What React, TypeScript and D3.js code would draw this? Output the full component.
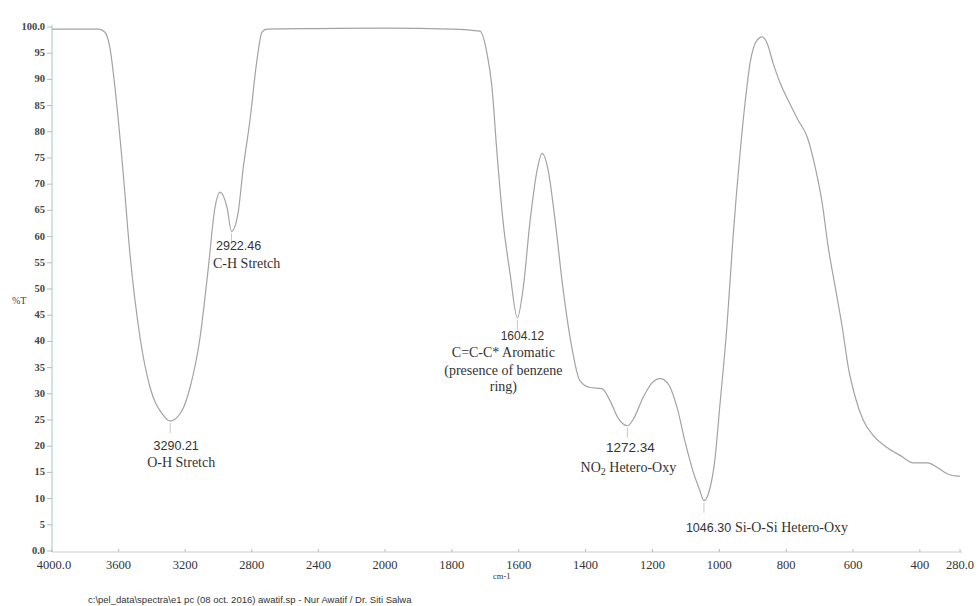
import React from 'react';
import * as d3 from 'd3';

// FTIR spectrum (cm-1, %T)
const wavenumbers = [
  4000, 3720, 3682, 3652, 3622, 3574, 3532, 3471, 3411, 3339, 3290, 3219, 3171, 3111, 3063,
  3021, 2991, 2949, 2922, 2883, 2853, 2811, 2769, 2739, 2709, 2400, 2000, 1800, 1716, 1695,
  1680, 1665, 1647, 1626, 1604, 1587, 1566, 1545, 1530, 1512, 1491, 1468, 1441, 1417, 1387,
  1351, 1327, 1303, 1275, 1255, 1228, 1201, 1177, 1153, 1126, 1103, 1079, 1058, 1046, 1030,
  1014, 998, 977, 959, 938, 923, 908, 887, 872, 857, 839, 818, 794, 764, 737, 713, 692, 674,
  653, 632, 614, 593, 569, 539, 497, 458, 419, 377, 347, 317, 288, 280
];
const transmittance = [
  99.6, 99.6, 99.0, 96.0, 88.5, 72.7, 56.8, 40.7, 31.2, 26.2, 24.8, 26.8, 31.2, 40.7, 53.5,
  65.6, 68.5, 65.6, 61.0, 64.4, 72.7, 82.2, 93.7, 99.0, 99.6, 99.7, 99.8, 99.6, 99.2, 95.0,
  88.5, 75.9, 63.0, 53.0, 44.5, 50.0, 63.0, 72.7, 75.9, 72.7, 63.0, 50.3, 38.8, 32.5, 31.2,
  31.0, 28.7, 25.4, 23.9, 25.4, 29.3, 32.1, 32.9, 31.9, 27.3, 21.0, 15.3, 11.5, 9.6, 11.5,
  17.0, 28.0, 43.0, 59.8, 75.9, 85.5, 93.1, 97.5, 98.1, 96.9, 93.1, 89.3, 86.0, 82.2, 79.0,
  73.2, 66.3, 57.9, 50.3, 42.6, 35.0, 29.3, 24.9, 22.0, 19.7, 18.2, 16.8, 16.8, 15.9, 14.7,
  14.3, 14.3
];

const xTicks = [4000, 3600, 3200, 2800, 2400, 2000, 1800, 1600, 1400, 1200, 1000, 800, 600, 400, 280];
const xTickLabels = ['4000.0', '3600', '3200', '2800', '2400', '2000', '1800', '1600', '1400', '1200', '1000', '800', '600', '400', '280.0'];
const yTicks = [0, 5, 10, 15, 20, 25, 30, 35, 40, 45, 50, 55, 60, 65, 70, 75, 80, 85, 90, 95, 100];
const yTickLabels = ['0.0', '5', '10', '15', '20', '25', '30', '35', '40', '45', '50', '55', '60', '65', '70', '75', '80', '85', '90', '95', '100.0'];

const peakPositions = [3290, 2922, 1604, 1275, 1046];
const peakNumbers = ['3290.21', '2922.46', '1604.12', '1272.34', '1046.30'];

const footer = 'c:\\pel_data\\spectra\\e1 pc (08 oct. 2016) awatif.sp - Nur Awatif / Dr. Siti Salwa';

const WIDTH = 980;
const HEIGHT = 606;
const SERIF = '"Liberation Serif", "Times New Roman", serif';
const SANS = '"Liberation Sans", Arial, sans-serif';

export default function App() {
  // the scale doubles below 2000 cm-1, like the instrument plot
  const x = d3.scaleLinear().domain([4000, 2000, 280]).range([52, 385, 960]);
  const y = d3.scaleLinear().domain([0, 100]).range([551, 27]);

  const points: [number, number][] = wavenumbers.map((w, i) => [w, transmittance[i]]);
  const line = d3
    .line<[number, number]>()
    .x(d => x(d[0]))
    .y(d => y(d[1]))
    .curve(d3.curveMonotoneX);

  const tOf = (w: number) => transmittance[wavenumbers.indexOf(w)];

  const txt = { fill: '#333' };

  return (
    <svg width={WIDTH} height={HEIGHT} style={{ position: 'absolute', left: 0, top: 0, background: '#fff' }}>
      {/* y axis */}
      <line x1={52} x2={52} y1={y(100) - 2} y2={y(0) + 1} stroke="#a9d3d6" strokeWidth={1.2} />
      {yTicks.map((t, i) => (
        <g key={t}>
          <line x1={47} x2={52} y1={y(t)} y2={y(t)} stroke="#bbb" />
          <text x={45} y={y(t) + 3} textAnchor="end" fontFamily={SERIF} fontSize={10.5} fontWeight="bold" fill="#444">
            {yTickLabels[i]}
          </text>
        </g>
      ))}
      <text x={12} y={304} fontFamily={SERIF} fontSize={10} fill="#444">%T</text>

      {/* x axis */}
      <line x1={52} x2={962} y1={y(0) + 1} y2={y(0) + 1} stroke="#ccc" strokeWidth={1.2} />
      {xTicks.map((t, i) => (
        <g key={t}>
          <line x1={x(t)} x2={x(t)} y1={y(0) - 2} y2={y(0) + 1} stroke="#bbb" />
          <text x={x(t) + (i === 0 ? 2 : 0)} y={569} textAnchor="middle" fontFamily={SERIF} fontSize={12.5} fill="#333">
            {xTickLabels[i]}
          </text>
        </g>
      ))}
      <text x={493} y={579} fontFamily={SERIF} fontSize={8.5} fill="#333">cm-1</text>

      {/* spectrum */}
      <path d={line(points) ?? ''} fill="none" stroke="#a3a3a3" strokeWidth={1.2} />

      {/* peak markers */}
      {peakPositions.map(w => (
        <line key={w} x1={x(w)} x2={x(w)} y1={y(tOf(w)) + 2} y2={y(tOf(w)) + 12} stroke="#c8c8c8" />
      ))}

      {/* annotations */}
      <g fontFamily={SANS} {...txt}>
        <text x={x(3290) + 6} y={450} textAnchor="middle" fontSize={12.5}>{peakNumbers[0]}</text>
        <text x={x(2922) - 15.5} y={250} fontSize={12.5}>{peakNumbers[1]}</text>
        <text x={x(1604) + 5} y={340} textAnchor="middle" fontSize={12}>{peakNumbers[2]}</text>
        <text x={x(1272) + 2} y={452} textAnchor="middle" fontSize={13.5}>{peakNumbers[3]}</text>
        <text x={x(1046) - 18} y={532} fontSize={12.5}>{peakNumbers[4]}</text>
      </g>
      <g fontFamily={SERIF} fontSize={14} {...txt}>
        <text x={x(3290) + 11} y={467} textAnchor="middle">O-H Stretch</text>
        <text x={x(2922) - 18.5} y={268}>C-H Stretch</text>
        <text x={x(1604) - 14} y={357} textAnchor="middle">C=C-C* Aromatic</text>
        <text x={x(1604) - 14} y={375} textAnchor="middle">(presence of benzene</text>
        <text x={x(1604) - 14} y={391} textAnchor="middle">ring)</text>
        <text x={x(1272)} y={472} textAnchor="middle">
          NO<tspan fontSize={10} dy={3}>2</tspan><tspan dy={-3}> Hetero-Oxy</tspan>
        </text>
        <text x={x(1046) + 31} y={532}>Si-O-Si Hetero-Oxy</text>
      </g>

      <text x={88} y={603} fontFamily={SANS} fontSize={9.5} fill="#333">{footer}</text>
    </svg>
  );
}
